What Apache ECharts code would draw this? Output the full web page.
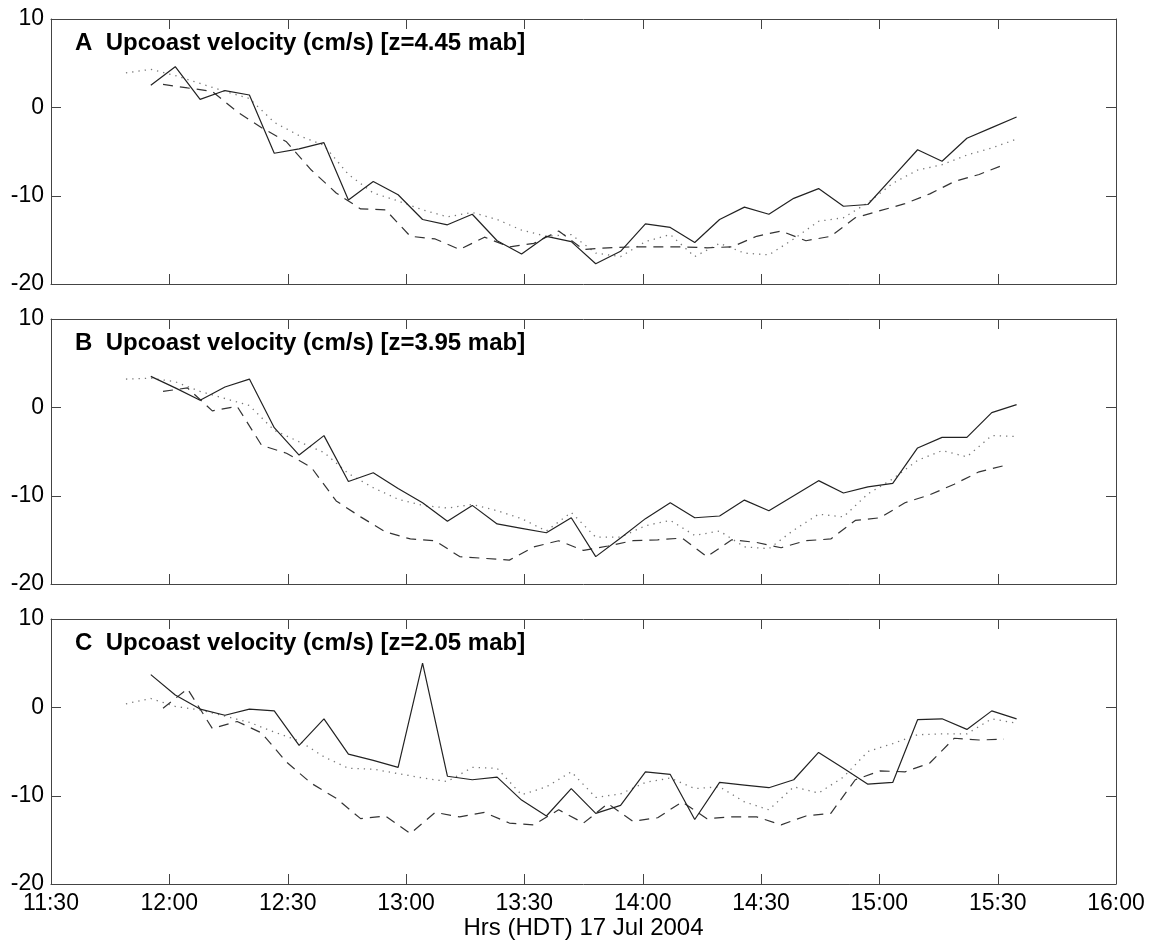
<!DOCTYPE html>
<html>
<head>
    <meta charset="utf-8">
    <title>Upcoast velocity</title>
    <script src="https://cdn.jsdelivr.net/npm/echarts@6/dist/echarts.min.js"></script>
    <style>
        body { margin: 0; background: #fff; }
        #main { width: 1151px; height: 941px; }
    </style>
</head>
<body>
<div id="main"></div>
<script type="text/javascript">
    // times in minutes of the day (11:30 = 690)
    var timeGrid = [709.0, 715.3, 721.5, 727.8, 734.1, 740.3, 746.6, 752.9, 759.2, 765.4, 771.7, 778.0,
        784.2, 790.5, 796.8, 803.1, 809.3, 815.6, 821.9, 828.1, 834.4, 840.7, 847.0, 853.2, 859.5, 865.8,
        872.0, 878.3, 884.6, 890.9, 897.1, 903.4, 909.7, 915.9, 922.2, 928.5, 934.8];
    var timeGridDash = [718.4, 724.6, 730.9, 737.2, 743.4, 749.7, 756.0, 762.3, 768.5, 774.8, 781.1, 787.4,
        793.6, 799.9, 806.2, 812.4, 818.7, 825.0, 831.2, 837.5, 843.8, 850.0, 856.3, 862.6, 868.9, 875.1,
        881.4, 887.7, 893.9, 900.2, 906.5, 912.8, 919.0, 925.3, 931.6];

    var xTicks = [690, 720, 750, 780, 810, 840, 870, 900, 930, 960];
    var yTicks = [-20, -10, 0, 10];

    var panelTitles = [
        'A  Upcoast velocity (cm/s) [z=4.45 mab]',
        'B  Upcoast velocity (cm/s) [z=3.95 mab]',
        'C  Upcoast velocity (cm/s) [z=2.05 mab]'
    ];

    // panel A
    var solidA = [null, 2.5, 4.6, 0.9, 1.9, 1.4, -5.2, -4.7, -4.0, -10.5, -8.4, -9.9, -12.7, -13.3, -12.1,
        -15.1, -16.6, -14.6, -15.2, -17.7, -16.3, -13.2, -13.6, -15.3, -12.7, -11.3, -12.1, -10.3, -9.2,
        -11.2, -11.0, -7.9, -4.8, -6.1, -3.5, -2.3, -1.1];
    var dotA = [3.9, 4.3, 3.6, 2.7, 1.8, 1.0, -1.7, -3.2, -4.3, -7.6, -9.7, -10.6, -11.6, -12.4, -11.9,
        -12.7, -13.9, -14.6, -14.4, -16.5, -16.9, -15.2, -14.4, -16.9, -15.4, -16.5, -16.7, -14.9, -12.9,
        -12.5, -10.8, -8.6, -7.1, -6.5, -5.4, -4.6, -3.6];
    var dashA = [2.6, 2.2, 1.8, -0.5, -2.3, -3.9, -7.1, -9.7, -11.5, -11.6, -14.6, -14.9, -16.1, -14.7,
        -15.8, -15.4, -14.0, -16.1, -15.9, -15.8, -15.8, -15.8, -15.9, -15.8, -14.6, -14.0, -15.1, -14.6,
        -12.5, -11.7, -10.9, -9.8, -8.4, -7.6, -6.5];

    // panel B
    var solidB = [null, 3.5, 2.2, 0.8, 2.3, 3.2, -2.3, -5.4, -3.2, -8.4, -7.4, -9.2, -10.8, -12.9, -11.1,
        -13.2, -13.7, -14.2, -12.5, -16.9, -14.8, -12.6, -10.8, -12.5, -12.3, -10.5, -11.7, -10.0, -8.3,
        -9.7, -9.0, -8.6, -4.6, -3.4, -3.4, -0.6, 0.3];
    var dotB = [3.2, 3.3, 2.9, 1.8, 1.0, 0.2, -2.6, -3.9, -5.1, -7.5, -9.1, -10.4, -11.1, -11.4, -11.0,
        -11.7, -12.6, -14.0, -11.9, -14.7, -14.7, -13.4, -12.8, -14.5, -14.0, -15.8, -16.0, -13.9, -12.1,
        -12.4, -9.8, -8.1, -6.0, -4.9, -5.6, -3.2, -3.3];
    var dashB = [1.8, 2.2, -0.4, 0.1, -4.3, -5.2, -6.8, -10.6, -12.4, -14.1, -14.9, -15.1, -16.9, -17.1,
        -17.3, -15.8, -15.1, -16.2, -15.7, -15.1, -15.0, -14.8, -16.9, -15.0, -15.3, -15.9, -15.1, -14.9,
        -12.8, -12.5, -10.8, -9.9, -8.7, -7.3, -6.6];

    // panel C
    var solidC = [null, 3.7, 1.4, -0.2, -0.9, -0.2, -0.4, -4.3, -1.3, -5.3, -6.0, -6.8, 5.0, -7.8, -8.2,
        -7.9, -10.5, -12.3, -9.2, -12.0, -11.1, -7.3, -7.6, -12.7, -8.5, -8.8, -9.1, -8.2, -5.1, -6.9, -8.7,
        -8.5, -1.4, -1.3, -2.5, -0.4, -1.3];
    var dotC = [0.4, 1.0, 0.1, -0.3, -1.0, -1.7, -2.8, -3.8, -5.6, -6.9, -7.0, -7.5, -8.0, -8.4, -6.8,
        -6.9, -9.9, -9.0, -7.3, -10.2, -9.8, -8.5, -8.0, -9.2, -9.0, -10.7, -11.6, -9.0, -9.7, -7.9, -5.0,
        -4.1, -3.1, -3.0, -3.0, -1.3, -1.8];
    var dashC = [-0.1, 2.1, -2.4, -1.6, -2.9, -6.2, -8.6, -10.3, -12.6, -12.3, -14.3, -11.9, -12.4, -11.9,
        -13.1, -13.3, -11.6, -13.1, -10.9, -12.9, -12.5, -10.7, -12.6, -12.4, -12.4, -13.3, -12.3, -12.0,
        -8.2, -7.2, -7.3, -6.3, -3.5, -3.7, -3.6];

    var panels = [
        {solid: solidA, dot: dotA, dash: dashA},
        {solid: solidB, dot: dotB, dash: dashB},
        {solid: solidC, dot: dotC, dash: dashC}
    ];

    var gridTops = [19, 319, 619];
    var gridHeight = 265;
    var tickLen = 10;
    var fontFamily = "'Liberation Sans', Arial, Helvetica, sans-serif";
    var frameColor = '#444';

    function pairs(times, values) {
        var out = [];
        for (var i = 0; i < values.length; i++) {
            if (values[i] !== null) out.push([times[i], values[i]]);
        }
        return out;
    }

    function clockLabel(v) {
        var h = Math.floor(v / 60);
        var m = v % 60;
        return h + ':' + (m < 10 ? '0' + m : m);
    }

    function xAxisFor(g, pos, showLabel) {
        return {
            type: 'value', gridIndex: g, position: pos,
            min: xTicks[0], max: xTicks[xTicks.length - 1], interval: 30,
            axisLine: {show: true, onZero: false, lineStyle: {color: frameColor, width: 1}},
            axisTick: {show: false},
            axisLabel: {
                show: showLabel, margin: 8, fontSize: 23, color: '#000', fontFamily: fontFamily,
                formatter: clockLabel
            },
            splitLine: {show: false}
        };
    }

    function yAxisFor(g, pos, showLabel) {
        return {
            type: 'value', gridIndex: g, position: pos,
            min: yTicks[0], max: yTicks[yTicks.length - 1], interval: 10,
            axisLine: {show: true, onZero: false, lineStyle: {color: frameColor, width: 1}},
            axisTick: {show: false},
            axisLabel: {show: showLabel, margin: 7, fontSize: 23, color: '#000', fontFamily: fontFamily},
            splitLine: {show: false}
        };
    }

    var option = {
        animation: false,
        title: [],
        grid: [],
        xAxis: [],
        yAxis: [],
        series: []
    };

    for (var p = 0; p < 3; p++) {
        option.grid.push({left: 51, right: 35, top: gridTops[p], height: gridHeight});
        option.title.push({
            text: panelTitles[p],
            left: 75,
            top: gridTops[p] + 12.5,
            padding: 0,
            textStyle: {fontSize: 24, fontWeight: 'bold', color: '#000', fontFamily: fontFamily}
        });
        option.xAxis.push(xAxisFor(p, 'bottom', p === 2));
        option.xAxis.push(xAxisFor(p, 'top', false));
        option.yAxis.push(yAxisFor(p, 'left', true));
        option.yAxis.push(yAxisFor(p, 'right', false));

        var xi = p * 2, yi = p * 2;
        option.series.push({
            type: 'line', xAxisIndex: xi, yAxisIndex: yi, showSymbol: false, silent: true,
            data: pairs(timeGrid, panels[p].dot),
            lineStyle: {color: '#777', width: 1.3, type: [1.3, 5]}
        });
        option.series.push({
            type: 'line', xAxisIndex: xi, yAxisIndex: yi, showSymbol: false, silent: true,
            data: pairs(timeGridDash, panels[p].dash),
            lineStyle: {color: '#333', width: 1.2, type: [10, 7]}
        });
        option.series.push({
            type: 'line', xAxisIndex: xi, yAxisIndex: yi, showSymbol: false, silent: true,
            data: pairs(timeGrid, panels[p].solid),
            lineStyle: {color: '#222', width: 1.2, type: 'solid'}
        });
    }

    // axis title under the bottom panel
    option.xAxis[4].name = 'Hrs (HDT) 17 Jul 2004';
    option.xAxis[4].nameLocation = 'middle';
    option.xAxis[4].nameGap = 30;
    option.xAxis[4].nameTextStyle = {fontSize: 24, color: '#000', fontFamily: fontFamily};

    var myChart = echarts.init(document.getElementById('main'));
    myChart.setOption(option);

    // inward tick marks on all four sides, placed through each panel's own scales
    var tickMarks = [];
    function tick(x1, y1, x2, y2) {
        tickMarks.push({
            type: 'line', silent: true, z: 100,
            shape: {x1: x1, y1: y1, x2: x2, y2: y2},
            style: {stroke: frameColor, lineWidth: 1}
        });
    }
    for (var g = 0; g < 3; g++) {
        var finder = {seriesIndex: g * 3};
        var yLo = yTicks[0], yHi = yTicks[yTicks.length - 1];
        var xLo = xTicks[0], xHi = xTicks[xTicks.length - 1];
        xTicks.forEach(function (t) {
            var b = myChart.convertToPixel(finder, [t, yLo]);
            var tp = myChart.convertToPixel(finder, [t, yHi]);
            var x = Math.round(b[0]) + 0.5;
            tick(x, b[1], x, b[1] - tickLen);
            tick(x, tp[1], x, tp[1] + tickLen);
        });
        yTicks.forEach(function (v) {
            var l = myChart.convertToPixel(finder, [xLo, v]);
            var r = myChart.convertToPixel(finder, [xHi, v]);
            var y = Math.round(l[1]) + 0.5;
            tick(l[0], y, l[0] + tickLen, y);
            tick(r[0], y, r[0] - tickLen, y);
        });
    }
    myChart.setOption({graphic: tickMarks});
</script>
</body>
</html>
